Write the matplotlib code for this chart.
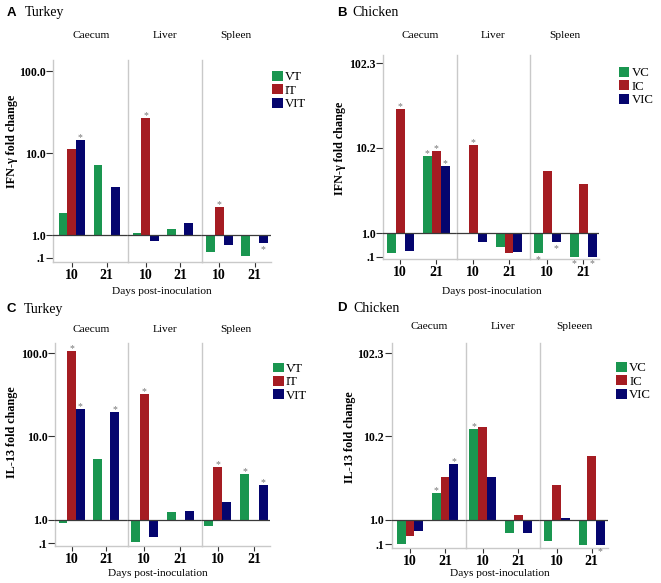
import numpy as np
import matplotlib
matplotlib.use("Agg")
import matplotlib.pyplot as plt
from matplotlib.patches import Patch

nan = np.nan

# ---------------- data ----------------
# order of values: Caecum d10, Caecum d21, Liver d10, Liver d21, Spleen d10, Spleen d21
FACETS_TURKEY = ["Caecum", "Liver", "Spleen"]
FACETS_CHICKEN_B = ["Caecum", "Liver", "Spleen"]
FACETS_CHICKEN_D = ["Caecum", "Liver", "Spleeen"]
DAYS = ["10", "21"]

TURKEY_SERIES = ["VT", "IT", "VIT"]
CHICKEN_SERIES = ["VC", "IC", "VIC"]

TURKEY_TICKS = [0.1, 1.0, 10.0, 100.0]
TURKEY_TICKLABELS = [".1", "1.0", "10.0", "100.0"]
CHICKEN_TICKS = [0.1, 1.0, 10.2, 102.3]
CHICKEN_TICKLABELS = [".1", "1.0", "10.2", "102.3"]

# A: Turkey IFN-gamma
A_VT = [1.85, 7.3, 1.06, 1.19, 0.31, 0.18]
A_IT = [11.3, nan, 26.7, nan, 2.21, nan]
A_VIT = [14.5, 3.9, 0.78, 1.42, 0.61, 0.68]
A_VT_SIG = [0, 0, 0, 0, 0, 0]
A_IT_SIG = [0, 0, 1, 0, 1, 0]
A_VIT_SIG = [1, 0, 0, 0, 0, 1]

# B: Chicken IFN-gamma
B_VC = [0.23, 8.27, 1.02, 0.46, 0.23, 0.07]
B_IC = [29.5, 9.47, 11.1, 0.24, 5.45, 3.83]
B_VIC = [0.33, 6.3, 0.68, 0.28, 0.65, 0.07]
B_VC_SIG = [0, 1, 0, 0, 1, 1]
B_IC_SIG = [1, 1, 1, 0, 0, 0]
B_VIC_SIG = [0, 1, 0, 0, 1, 1]

# C: Turkey IL-13
C_VT = [0.86, 5.3, 0.14, 1.23, 0.77, 3.57]
C_IT = [107.0, nan, 32.3, nan, 4.26, nan]
C_VIT = [21.3, 19.5, 0.35, 1.28, 1.63, 2.61]
C_VT_SIG = [0, 0, 0, 0, 0, 1]
C_IT_SIG = [1, 0, 1, 0, 1, 0]
C_VIT_SIG = [1, 1, 0, 0, 0, 1]

# D: Chicken IL-13
D_VC = [0.10, 2.1, 12.6, 0.50, 0.22, 0.07]
D_IC = [0.40, 3.33, 13.4, 1.14, 2.67, 5.92]
D_VIC = [0.58, 4.74, 3.27, 0.52, 1.05, 0.07]
D_VC_SIG = [0, 1, 1, 0, 0, 0]
D_IC_SIG = [0, 0, 0, 0, 0, 0]
D_VIC_SIG = [0, 1, 0, 0, 0, 1]

COLORS = ["#1A9650", "#A51C22", "#05056E"]

# ---------------- layout ----------------
W, H = 661, 583
SERIF = ["Liberation Serif", "DejaVu Serif"]
SANS = ["Liberation Sans", "DejaVu Sans"]
plt.rcParams["font.family"] = SERIF

fig = plt.figure(figsize=(W / 100, H / 100), dpi=100)

panels = [
    dict(letter="A", animal="Turkey", ylabel="IFN-γ fold change",
         names=TURKEY_SERIES, vals=(A_VT, A_IT, A_VIT), sig=(A_VT_SIG, A_IT_SIG, A_VIT_SIG),
         yt=TURKEY_TICKS, ytl=TURKEY_TICKLABELS, facets=FACETS_TURKEY,
         edges=[53.3, 128.3, 201.7, 270.7], ticks=[(71.7, 106.7), (145.7, 180.0), (219.3, 254.5)],
         top=60, bottom=261.7, base=235.3, dec=82.0, k=0.272, title_y=35,
         letter_xy=(6.7, 12.7), animal_x=25, ylab_xy=(12, 141.7), xlab_xy=(161.7, 292),
         leg_xy=(272.0, 71.0)),
    dict(letter="B", animal="Chicken", ylabel="IFN-γ fold change",
         names=CHICKEN_SERIES, vals=(B_VC, B_IC, B_VIC), sig=(B_VC_SIG, B_IC_SIG, B_VIC_SIG),
         yt=CHICKEN_TICKS, ytl=CHICKEN_TICKLABELS, facets=FACETS_CHICKEN_B,
         edges=[383.3, 456.7, 530.0, 599.3], ticks=[(400.0, 436.0), (473.3, 509.0), (547.3, 583.3)],
         top=55, bottom=259.3, base=233.3, dec=84.6, k=0.275, title_y=35,
         letter_xy=(337.0, 12.7), animal_x=352.7, ylab_xy=(340, 148), xlab_xy=(491.7, 292),
         leg_xy=(618.5, 67.0)),
    dict(letter="C", animal="Turkey", ylabel="IL-13 fold change",
         names=TURKEY_SERIES, vals=(C_VT, C_IT, C_VIT), sig=(C_VT_SIG, C_IT_SIG, C_VIT_SIG),
         yt=TURKEY_TICKS, ytl=TURKEY_TICKLABELS, facets=FACETS_TURKEY,
         edges=[55.0, 128.3, 201.7, 270.0], ticks=[(71.7, 106.0), (144.0, 180.0), (217.7, 254.0)],
         top=343, bottom=546, base=519.7, dec=83.3, k=0.283, title_y=330,
         letter_xy=(6.7, 309.3), animal_x=24.3, ylab_xy=(12, 431.7), xlab_xy=(158.3, 573.3),
         leg_xy=(272.8, 362.5)),
    dict(letter="D", animal="Chicken", ylabel="IL-13 fold change",
         names=CHICKEN_SERIES, vals=(D_VC, D_IC, D_VIC), sig=(D_VC_SIG, D_IC_SIG, D_VIC_SIG),
         yt=CHICKEN_TICKS, ytl=CHICKEN_TICKLABELS, facets=FACETS_CHICKEN_D,
         edges=[391.7, 466.0, 540.0, 608.3], ticks=[(410.0, 445.0), (482.7, 518.3), (556.7, 591.7)],
         top=343, bottom=548, base=520.0, dec=82.9, k=0.29, title_y=326.7,
         letter_xy=(337.0, 308.3), animal_x=353.3, ylab_xy=(350, 437.5), xlab_xy=(500, 574),
         leg_xy=(616.2, 362.0)),
]


def make_scale(k):
    def fwd(v):
        v = np.asarray(v, dtype=float)
        lg = np.log10(np.clip(v, 1e-9, None))
        return np.where(v >= 1, lg, (v - 1) / 0.9 * k)

    def inv(t):
        t = np.asarray(t, dtype=float)
        return np.where(t >= 0, np.power(10.0, np.clip(t, -50, 50)), 1 + t / k * 0.9)
    return fwd, inv


SPINE = "#c9c9c9"
TICKC = "#333333"

for p in panels:
    fwd, inv = make_scale(p["k"])
    t_top = (p["base"] - p["top"]) / p["dec"]
    t_bot = -(p["bottom"] - p["base"]) / p["dec"]
    ylo, yhi = float(inv(t_bot)), float(inv(t_top))
    for j in range(3):
        L, R = p["edges"][j], p["edges"][j + 1]
        p10, p21 = p["ticks"][j]
        d = p21 - p10
        ax = fig.add_axes([L / W, 1 - p["bottom"] / H, (R - L) / W, (p["bottom"] - p["top"]) / H])
        ax.set_yscale("function", functions=(fwd, inv))
        ax.set_ylim(ylo, yhi)
        ax.set_xlim((L - p10) / d, (R - p10) / d)
        ax.patch.set_alpha(0)
        for i in range(3):
            vals = p["vals"][i]
            sigs = p["sig"][i]
            for dd in range(2):
                v = vals[2 * j + dd]
                if np.isnan(v):
                    continue
                x = dd + (i - 1) * 0.25
                ax.bar(x, v - 1, bottom=1, width=0.25, color=COLORS[i], edgecolor="none", zorder=2)
                if sigs[2 * j + dd]:
                    if v >= 1:
                        ax.annotate("*", xy=(x, v), xytext=(0, 0), textcoords="offset pixels",
                                    ha="center", va="baseline", fontsize=7, color="#777777")
                    else:
                        ax.annotate("*", xy=(x, v), xytext=(0, -9), textcoords="offset pixels",
                                    ha="center", va="baseline", fontsize=7, color="#777777")
        ax.axhline(1.0, color="#3a3a3a", lw=0.9, zorder=3)
        for s in ["top", "right"]:
            ax.spines[s].set_visible(False)
        for s in ["left", "bottom"]:
            ax.spines[s].set_color(SPINE)
            ax.spines[s].set_linewidth(1.0)
        ax.set_xticks([0, 1])
        ax.set_xticklabels(DAYS, fontsize=10, fontweight="bold")
        ax.tick_params(axis="x", length=3.8, width=0.8, color=TICKC, pad=1.2)
        if j == 0:
            ax.set_yticks(p["yt"])
            ax.set_yticklabels(p["ytl"], fontsize=8.5, fontweight="bold")
            ax.tick_params(axis="y", length=5, width=0.8, color=TICKC, pad=0.5)
        else:
            ax.set_yticks([])
        ax.yaxis.set_minor_locator(matplotlib.ticker.NullLocator())
        fig.text((L + R) / 2 / W, 1 - p["title_y"] / H, p["facets"][j], ha="center", va="center",
                 fontsize=8.2, family=SERIF)

    lx, ly = p["letter_xy"]
    fig.text(lx / W, 1 - ly / H, p["letter"], ha="left", va="center", fontsize=9.5,
             fontweight="bold", family=SANS)
    fig.text(p["animal_x"] / W, 1 - ly / H, p["animal"], ha="left", va="center", fontsize=10,
             family=SERIF)
    yx, yy = p["ylab_xy"]
    fig.text(yx / W, 1 - yy / H, p["ylabel"], ha="center", va="center", rotation=90,
             fontsize=8.7, fontweight="bold", family=SERIF)
    xx, xy = p["xlab_xy"]
    fig.text(xx / W, 1 - xy / H, "Days post-inoculation", ha="center", va="center",
             fontsize=8.2, family=SERIF)
    handles = [Patch(facecolor=c, edgecolor="none") for c in COLORS]
    gx, gy = p["leg_xy"]
    fig.legend(handles, p["names"], loc="upper left", bbox_to_anchor=(gx / W, 1 - gy / H),
               frameon=False, borderpad=0, borderaxespad=0, handlelength=0.85,
               handleheight=0.8, handletextpad=0.15, labelspacing=0.08,
               prop={"family": SERIF, "size": 9.3})

fig.savefig("out.png", dpi=100)
